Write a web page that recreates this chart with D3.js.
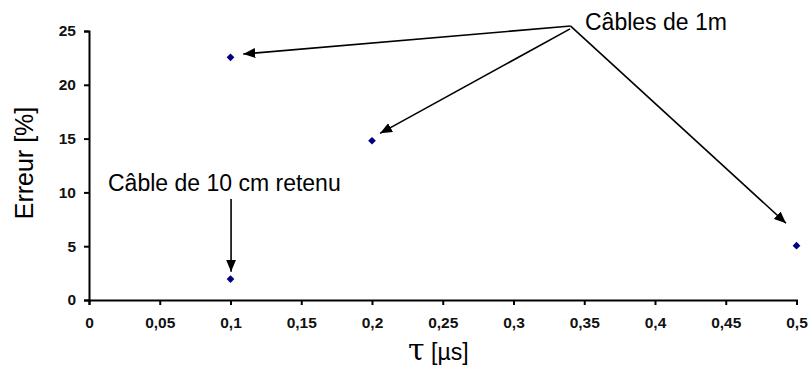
<!DOCTYPE html>
<html><head><meta charset="utf-8">
<script src="https://cdn.jsdelivr.net/npm/d3@7/dist/d3.min.js"></script>
<style>body{margin:0;background:#fff}svg{display:block}text{font-family:"Liberation Sans",Arial,sans-serif}</style>
</head><body>
<script>
const tau = [0.1, 0.2, 0.5, 0.1];
const erreur = [22.55, 14.8, 5.05, 1.95];
const xTicks = [0,0.05,0.1,0.15,0.2,0.25,0.3,0.35,0.4,0.45,0.5];
const yTicks = [0,5,10,15,20,25];
const labelCables = "Câbles de 1m";
const labelRetenu = "Câble de 10 cm retenu";
// arrows in data units: [x1,y1,x2,y2]
const arrows = [
  [0.3404,25.46,0.109,22.86],
  [0.340,25.2,0.2057,15.49],
  [0.3404,25.46,0.4926,7.13],
  [0.1004,9.39,0.1004,2.63]
];

const W=808,H=369;
const svg=d3.select("body").append("svg").attr("width",W).attr("height",H);
const x=d3.scaleLinear().domain([0,0.5]).range([89,796.5]);
const y=d3.scaleLinear().domain([0,25]).range([300,31]);
const fmt=d=>String(d).replace(".",",");

const defs=svg.append("defs");
defs.append("marker").attr("id","ah").attr("viewBox","0 0 12 10").attr("refX",12).attr("refY",5)
  .attr("markerWidth",12).attr("markerHeight",10).attr("markerUnits","userSpaceOnUse").attr("orient","auto")
  .append("path").attr("d","M0,0L12,5L0,10Z").attr("fill","#000");

const xa=svg.append("g").attr("transform","translate(0,300)")
  .call(d3.axisBottom(x).tickValues(xTicks).tickFormat(fmt).tickSize(5).tickPadding(12));
const ya=svg.append("g").attr("transform","translate(89,0)")
  .call(d3.axisLeft(y).tickValues(yTicks).tickFormat(fmt).tickSize(5).tickPadding(8));
[xa,ya].forEach(g=>{
  g.select(".domain").attr("stroke","#000").attr("stroke-width",2);
  g.selectAll(".tick line").attr("stroke","#000").attr("stroke-width",2);
  g.selectAll(".tick text").attr("font-size",15.5).attr("font-weight","bold").attr("fill","#111")
   .attr("font-family","'Liberation Sans',Arial,sans-serif");
});

svg.selectAll("path.pt").data(tau.map((t,i)=>[t,erreur[i]])).join("path").attr("class","pt")
  .attr("d",d3.symbol(d3.symbolSquare,30)())
  .attr("transform",d=>`translate(${x(d[0])},${y(d[1])}) rotate(45)`)
  .attr("fill","#000080");

svg.selectAll("line.arr").data(arrows).join("line").attr("class","arr")
  .attr("x1",d=>x(d[0])).attr("y1",d=>y(d[1])).attr("x2",d=>x(d[2])).attr("y2",d=>y(d[3]))
  .attr("stroke","#000").attr("stroke-width",1.6).attr("marker-end","url(#ah)");

svg.append("text").attr("x",585).attr("y",30).attr("font-size",23).text(labelCables);
svg.append("text").attr("x",108).attr("y",191).attr("font-size",23).text(labelRetenu);

svg.append("text").attr("transform","translate(33,163) rotate(-90)").attr("text-anchor","middle")
  .attr("font-size",25).text("Erreur [%]");
const xt=svg.append("text").attr("x",408).attr("y",360);
xt.append("tspan").attr("font-size",30).attr("font-family","'DejaVu Serif',serif").text("τ");
xt.append("tspan").attr("font-size",23).text(" [µs]");
</script>
</body></html>
